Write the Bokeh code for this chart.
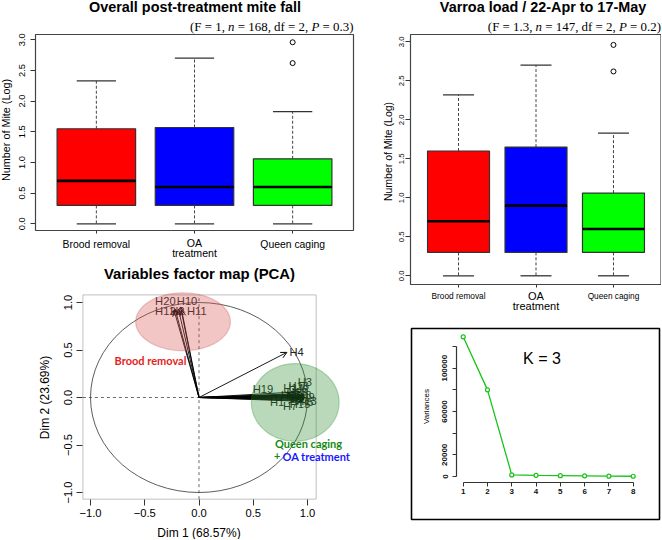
import numpy as np
from bokeh.plotting import figure
from bokeh.layouts import row, column
from bokeh.models import (ColumnDataSource, Label, Arrow, OpenHead,
                          PolyAnnotation, FixedTicker, BoxAnnotation)
from bokeh.embed import file_html
from bokeh.resources import INLINE
from bokeh.core.properties import value

# ======================= data =======================
groups = ["Brood removal", "OA\ntreatment", "Queen caging"]
group_colors = ["#ff0000", "#0000ff", "#00ff00"]

# Overall post-treatment mite fall (log)
fall_low = [0.0, 0.0, 0.0]
fall_q1 = [0.30, 0.30, 0.30]
fall_median = [0.70, 0.60, 0.60]
fall_q3 = [1.55, 1.57, 1.06]
fall_high = [2.33, 2.70, 1.83]
fall_outlier_group = [3, 3]
fall_outliers = [2.62, 2.96]
fall_title = "Overall post-treatment mite fall"
fall_stats = [("(F = 1, ", False), ("n", True), (" = 168, df = 2, ", False),
              ("P", True), (" = 0.3)", False)]

# Varroa load 22-Apr to 17-May (log)
load_low = [0.0, 0.0, 0.0]
load_q1 = [0.30, 0.30, 0.30]
load_median = [0.70, 0.90, 0.60]
load_q3 = [1.60, 1.65, 1.06]
load_high = [2.32, 2.70, 1.83]
load_outlier_group = [3, 3]
load_outliers = [2.62, 2.96]
load_title = "Varroa load / 22-Apr to 17-May"
load_stats = [("(F = 1.3, ", False), ("n", True), (" = 147, df = 2, ", False),
              ("P", True), (" = 0.2)", False)]

mite_ticks = [0.0, 0.5, 1.0, 1.5, 2.0, 2.5, 3.0]
mite_tick_labels = ["0.0", "0.5", "1.0", "1.5", "2.0", "2.5", "3.0"]
mite_label = "Number of Mite (Log)"

# PCA variables factor map
pca_title = "Variables factor map (PCA)"
pca_xlabel = "Dim 1 (68.57%)"
pca_ylabel = "Dim 2 (23.69%)"
pca_vars = ["H1", "H2", "H3", "H4", "H5", "H6", "H7", "H8", "H9", "H10",
            "H11", "H12", "H13", "H14", "H15", "H16", "H17", "H18", "H19", "H20"]
pca_dim1 = [0.93, -0.19, 0.92, 0.81, 0.97, 0.96, 0.88, 0.98, 0.97, -0.17,
            -0.16, -0.23, 0.95, 0.90, 0.94, 0.89, 0.91, 0.85, 0.87, -0.22]
pca_dim2 = [0.02, 0.93, 0.06, 0.475, -0.02, 0.01, -0.03, 0.00, 0.03, 0.95,
            0.92, 0.92, -0.04, 0.04, -0.01, 0.01, -0.02, 0.03, 0.02, 0.93]
pca_label_x = [0.72, -0.20, 0.975, 0.90, 0.99, 0.94, 0.84, 0.97, 1.00, -0.11,
               -0.02, -0.31, 0.99, 0.87, 0.93, 0.92, 0.85, 0.90, 0.59, -0.31]
pca_label_y = [-0.045, 0.91, 0.16, 0.475, -0.05, 0.09, -0.085, 0.03, 0.01, 1.02,
               0.91, 0.91, -0.04, 0.10, -0.07, 0.12, 0.03, 0.06, 0.094, 1.02]
pca_ticks = [-1.0, -0.5, 0.0, 0.5, 1.0]
pca_tick_labels = ["\u22121.0", "\u22120.5", "0.0", "0.5", "1.0"]
pca_box = (-1.07, 1.08)
brood_ellipse = dict(cx=-0.147, cy=0.797, w=0.873, h=0.609)
queen_ellipse = dict(cx=0.887, cy=-0.052, w=0.809, h=0.818)

# K-means scree plot
k_values = [1, 2, 3, 4, 5, 6, 7, 8]
variances = [129000, 80000, 1500, 1100, 800, 600, 300, 250]
var_ticks = [0, 20000, 40000, 60000, 80000, 100000, 120000]
var_tick_labels = ["0", "20000", "", "60000", "", "100000", ""]
k_text = "K = 3"

# ======================= layout helpers =======================
SANS = "Liberation Sans"
SERIF = "Liberation Serif"
MID = 0.35   # distance (em) from the alphabetic baseline up to the text middle

# Times-compatible advance widths (em) for the statistics line
TIMES_W = {"(": .333, ")": .333, "F": .556, " ": .25, "=": .564, ",": .25, ".": .25,
           "d": .5, "f": .333, "n": .5, "P": .611}
for _c in "0123456789":
    TIMES_W[_c] = .5


def fpx(v):
    return f"{v:.2f}px"


class Panel:
    """Maps page-pixel positions into data space of a figure whose frame covers
    the whole figure."""

    def __init__(self, ox, oy, w, h, xcal, ycal):
        self.ox, self.oy, self.w, self.h = ox, oy, w, h
        (rxa, va), (rxb, vb) = xcal
        (rya, wa), (ryb, wb) = ycal
        self.kx = (vb - va) / (rxb - rxa)
        self.ky = (wb - wa) / (ryb - rya)
        self.xa, self.ya = (rxa, va), (rya, wa)

    def X(self, rx):
        return self.xa[1] + (rx - self.xa[0]) * self.kx

    def Y(self, ry):
        return self.ya[1] + (ry - self.ya[0]) * self.ky

    def figure(self):
        xr = (self.X(self.ox), self.X(self.ox + self.w))
        yr = (self.Y(self.oy + self.h), self.Y(self.oy))
        p = figure(width=self.w, height=self.h, x_range=xr, y_range=yr, title=None,
                   output_backend="svg", toolbar_location=None, frame_align=False,
                   min_border_left=0, min_border_right=0, min_border_top=0,
                   min_border_bottom=0)
        p.xgrid.visible = False
        p.ygrid.visible = False
        p.outline_line_color = None
        p.background_fill_color = "white"
        p.border_fill_color = "white"
        return p


def text(p, P, rx, ry, s, size, font=SANS, style="normal", color="black",
         align="center", angle=0.0, x_offset=0.0, data_x=None):
    # (rx, ry) is the alphabetic baseline position; draw with a middle baseline
    if angle == 0.0:
        ry = ry - MID * size
    else:
        rx = rx - MID * size
    x = P.X(rx) if data_x is None else data_x
    p.add_layout(Label(x=x, y=P.Y(ry), text=s, text_align=align,
                       text_baseline="middle", text_font=font,
                       text_font_style=style, text_font_size=fpx(size),
                       text_color=color, angle=angle, x_offset=x_offset))


def stats_line(p, P, right_rx, base_ry, segments, size):
    total = sum(TIMES_W[c] for seg, _ in segments for c in seg) * size
    cum = 0.0
    for seg, italic in segments:
        lead = (len(seg) - len(seg.lstrip(" "))) * TIMES_W[" "] * size
        text(p, P, right_rx, base_ry, seg.strip(), size, font=SERIF,
             style="italic" if italic else "normal", align="left",
             x_offset=-(total - cum - lead))
        cum += sum(TIMES_W[c] for c in seg) * size


def box_outline(p, P, l, t, r, b, color, width):
    p.add_layout(BoxAnnotation(left=P.X(l), right=P.X(r), bottom=P.Y(b), top=P.Y(t),
                               fill_alpha=0, line_color=color, line_width=width,
                               line_alpha=1))


def style_axis(ax, size, standoff, tick_out, bold=False, color="black"):
    ax.axis_line_color = None
    ax.major_tick_out = tick_out
    ax.major_tick_in = 0
    ax.minor_tick_line_color = None
    ax.major_tick_line_color = "#333333"
    ax.major_label_text_font = SANS
    ax.major_label_text_font_size = fpx(size)
    ax.major_label_text_font_style = "bold" if bold else "normal"
    ax.major_label_text_color = color
    ax.major_label_standoff = standoff
    ax.axis_label = None


def boxplot(p, low, q1, med, q3, high, og, ov):
    x = [1, 2, 3]
    src = ColumnDataSource(dict(
        x=x, low=low, q1=q1, med=med, q3=q3, high=high, color=group_colors,
        c0=[v - 0.2 for v in x], c1=[v + 0.2 for v in x],
        m0=[v - 0.4 for v in x], m1=[v + 0.4 for v in x]))
    for a, b in (("q3", "high"), ("q1", "low")):
        p.segment(x0="x", y0=a, x1="x", y1=b, source=src,
                  line_color="#444444", line_dash="3 2", line_width=1)
    for yv in ("high", "low"):
        p.segment(x0="c0", y0=yv, x1="c1", y1=yv, source=src,
                  line_color="#333333", line_width=1.3)
    p.vbar(x="x", width=0.8, bottom="q1", top="q3", source=src,
           fill_color="color", line_color="#333333", line_width=1.2)
    p.segment(x0="m0", y0="med", x1="m1", y1="med", source=src,
              line_color="black", line_width=2.6)
    p.scatter(og, ov, marker="circle", size=5, fill_color=None,
              line_color="black", line_width=1)


def mite_panel(P, box, stats, data, out, cfg):
    l, t, r, b = box
    p = P.figure()
    boxplot(p, *data, *out)
    box_outline(p, P, l, t, r, b, "#444444", 1.2)
    ya = p.yaxis[0]
    ya.fixed_location = P.X(l)
    ya.ticker = FixedTicker(ticks=mite_ticks)
    ya.major_label_overrides = dict(zip(mite_ticks, mite_tick_labels))
    ya.major_label_orientation = "vertical"
    style_axis(ya, cfg["ytick_size"], cfg["ytick_standoff"], 5)
    xa = p.xaxis[0]
    xa.fixed_location = P.Y(b)
    xa.ticker = FixedTicker(ticks=[1, 2, 3])
    xa.major_label_overrides = {1: "", 2: "", 3: ""}
    style_axis(xa, 8, 0, 3)
    for i, g in enumerate(groups):
        for j, line in enumerate(g.split("\n")):
            ry = cfg["cat_base"][i] + j * cfg["cat_line"]
            text(p, P, 0, ry, line, cfg["cat_sizes"][i], data_x=i + 1)
    text(p, P, cfg["ylab_x"], cfg["ylab_y"], mite_label, cfg["ylab_size"],
         angle=np.pi / 2)
    text(p, P, cfg["title_x"], cfg["title_base"], cfg["title"], 14.4, style="bold")
    stats_line(p, P, r, cfg["stats_base"], stats, 12.9)
    return p


# ======================= panel 1 =======================
P1 = Panel(0, 0, 360, 258, ((35, 0.38), (353, 3.62)), ((223.3, 0.0), (39.3, 3.0)))
p1 = mite_panel(P1, (35, 34, 353, 230), fall_stats,
                (fall_low, fall_q1, fall_median, fall_q3, fall_high),
                (fall_outlier_group, fall_outliers),
                dict(ytick_size=9.3, ytick_standoff=5, cat_sizes=[10.4, 10.6, 10.4],
                     cat_base=[247.3, 246.5, 247.3], cat_line=9.3,
                     ylab_x=9.3, ylab_y=129.5, ylab_size=10.8,
                     title=fall_title, title_x=194.5, title_base=11.3,
                     stats_base=31.0))

# ======================= panel 2 =======================
P2 = Panel(360, 0, 301, 312, ((410, 0.38), (661, 3.62)), ((275.3, 0.0), (41.3, 3.0)))
p2 = mite_panel(P2, (410, 34, 660.5, 284), load_stats,
                (load_low, load_q1, load_median, load_q3, load_high),
                (load_outlier_group, load_outliers),
                dict(ytick_size=7.7, ytick_standoff=1, cat_sizes=[8.3, 11.0, 8.3],
                     cat_base=[298.5, 299.8, 298.5], cat_line=9.8,
                     ylab_x=391.0, ylab_y=151.0, ylab_size=10.5,
                     title=load_title, title_x=542.5, title_base=12.0,
                     stats_base=31.3))

# ======================= panel 3 : PCA =======================
P3 = Panel(0, 258, 360, 281, ((90, -1.0), (307, 1.0)), ((302, 1.0), (492, -1.0)))
p3 = P3.figure()
p3.add_layout(BoxAnnotation(left=pca_box[0], right=pca_box[1], bottom=pca_box[0],
                            top=pca_box[1], fill_alpha=0, line_color="#333333",
                            line_width=1))
xa3, ya3 = p3.xaxis[0], p3.yaxis[0]
xa3.fixed_location = pca_box[0]
ya3.fixed_location = pca_box[0]
for ax in (xa3, ya3):
    ax.ticker = FixedTicker(ticks=pca_ticks)
    ax.major_label_overrides = dict(zip(pca_ticks, pca_tick_labels))
xa3.bounds = pca_box
ya3.bounds = pca_box
style_axis(xa3, 11.2, 4, 6)
style_axis(ya3, 11.2, 5, 6)
ya3.major_label_orientation = "vertical"

p3.ellipse(x=[0], y=[0], width=[2], height=[2], fill_color=None,
           line_color="#333333", line_width=0.8)
p3.line(x=[0, 0], y=list(pca_box), line_dash="3 3", line_color="#444444", line_width=0.8)
p3.line(x=list(pca_box), y=[0, 0], line_dash="3 3", line_color="#444444", line_width=0.8)
pca_src = ColumnDataSource(dict(x0=[0.0] * len(pca_vars), y0=[0.0] * len(pca_vars),
                                x1=pca_dim1, y1=pca_dim2, name=pca_vars,
                                lx=pca_label_x, ly=pca_label_y))
p3.add_layout(Arrow(end=OpenHead(size=6, line_width=1, line_color="black"),
                    x_start="x0", y_start="y0", x_end="x1", y_end="y1",
                    source=pca_src, line_color="black", line_width=0.9))
p3.text(x="lx", y="ly", text="name", source=pca_src, text_align="center",
        text_baseline="middle", text_font=value(SANS),
        text_font_size=value(fpx(11.2)), text_color="#222222")

theta = np.linspace(0, 2 * np.pi, 120)
for e, fc, lc in ((brood_ellipse, "#d9534f", "#c0504d"),
                  (queen_ellipse, "#2e8b2e", "#1e8a1e")):
    xs = (e["cx"] + e["w"] / 2 * np.cos(theta)).tolist()
    ys = (e["cy"] + e["h"] / 2 * np.sin(theta)).tolist()
    p3.add_layout(PolyAnnotation(xs=xs, ys=ys, fill_color=fc, fill_alpha=0.33,
                                 line_color=lc, line_width=1.2))

text(p3, P3, 150, 364, "Brood removal", 11.0, font="Lato", style="bold", color="#e3241c")
text(p3, P3, 308, 446.5, "Queen caging", 11.0, font="Lato", style="bold", color="#138a13")
text(p3, P3, 273.5, 459.5, "+", 11.0, font="Lato", style="bold", color="#138a13",
     align="left")
text(p3, P3, 282, 459.5, "OA treatment", 11.0, font="Lato", style="bold",
     color="#1a1aff", align="left")
text(p3, P3, 199, 279, pca_title, 14.9, style="bold")
text(p3, P3, 198.5, 536.5, pca_xlabel, 12.0)
text(p3, P3, 48.5, 397, pca_ylabel, 12.0, angle=np.pi / 2)

# ======================= panel 4 : K-means scree =======================
P4 = Panel(360, 312, 301, 227, ((462.7, 1), (632.7, 8)),
           ((476, 0), (367.7, 100000)))
p4 = P4.figure()
box_outline(p4, P4, 411, 328, 659, 519, "black", 1.6)
p4.line(k_values, variances, line_color="#17c417", line_width=1.3)
p4.scatter(k_values, variances, marker="circle", size=4, fill_color="white",
           line_color="#17c417", line_width=1.2)
xa4, ya4 = p4.xaxis[0], p4.yaxis[0]
xa4.fixed_location = P4.Y(482.3)
ya4.fixed_location = P4.X(456)
xa4.bounds = (k_values[0], k_values[-1])
ya4.bounds = (var_ticks[0], var_ticks[-1])
xa4.ticker = FixedTicker(ticks=k_values)
ya4.ticker = FixedTicker(ticks=var_ticks)
ya4.major_label_overrides = dict(zip(var_ticks, var_tick_labels))
style_axis(xa4, 8.0, 2, 4, bold=True, color="#111111")
style_axis(ya4, 8.0, 5, 4, bold=True, color="#111111")
for ax in (xa4, ya4):
    ax.axis_line_color = "#333333"
    ax.axis_line_width = 1.2
ya4.major_label_orientation = "vertical"
text(p4, P4, 429, 406, "Variances", 8.0, angle=np.pi / 2)
text(p4, P4, 541.5, 363.3, k_text, 16.0)

layout = row(column(p1, p3, spacing=0), column(p2, p4, spacing=0), spacing=0)
open("out.html", "w").write(file_html(layout, INLINE))
